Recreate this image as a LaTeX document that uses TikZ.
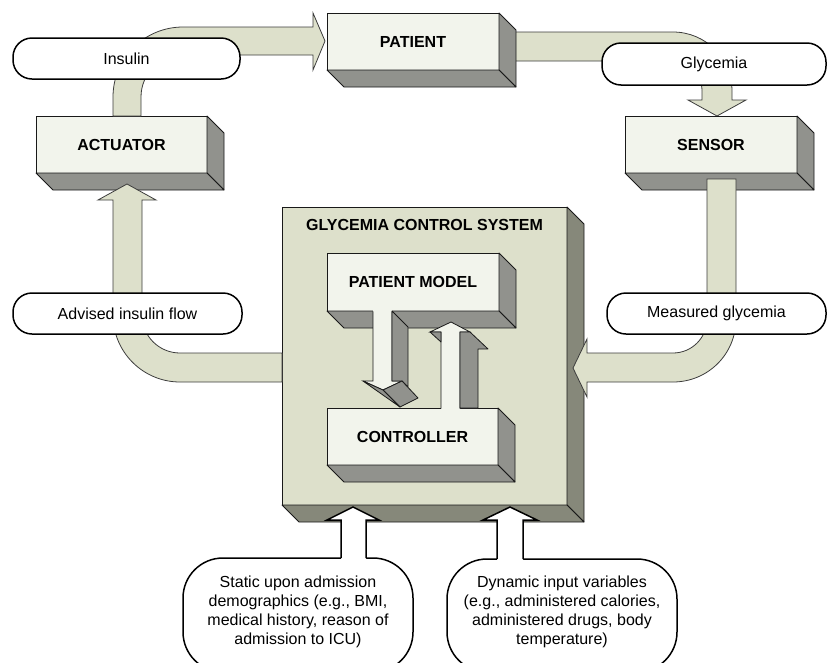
\documentclass[tikz,border=0pt]{standalone}
\usepackage{fontspec}
\setmainfont{Liberation Sans}
\usetikzlibrary{calc}

\definecolor{facelight}{RGB}{242,244,236}
\definecolor{faceshade}{RGB}{145,146,141}
\definecolor{sysface}{RGB}{221,224,203}
\definecolor{sysshade}{RGB}{134,136,122}
\definecolor{flowfill}{RGB}{221,224,203}
\definecolor{edge}{RGB}{25,25,25}

\tikzset{
  txt/.style={font=\fontsize{16}{19}\selectfont, text=black},
  front/.style={draw=edge, line width=0.8pt, fill=facelight, inner sep=0pt, outer sep=0pt,
                font=\fontsize{16}{19}\selectfont\bfseries, text=black},
  shade/.style={draw=edge, line width=0.8pt, fill=faceshade, line join=round},
  flow/.style={draw=edge!85, line width=0.8pt, fill=flowfill, line join=miter},
  pill/.style={txt, draw=black, line width=1.5pt, fill=white, rounded corners=19pt,
               inner sep=0pt, outer sep=0pt},
  bubble/.style={draw=black, line width=1.5pt, fill=white},
}

% side and bottom faces of an extruded box, depth #2
\newcommand{\extrude}[3]{%
  \filldraw[shade, fill=#3] (#1.north east) -- ++(#2,#2) -- ($(#1.south east)+(#2,#2)$) -- (#1.south east) -- cycle;
  \filldraw[shade, fill=#3] (#1.south west) -- (#1.south east) -- ($(#1.south east)+(#2,#2)$) -- ($(#1.south west)+(#2,#2)$) -- cycle;
}

\begin{document}
\begin{tikzpicture}[x=1pt, y=-1pt]
\clip (0,0) rectangle (827,662);

% glycemia flow leaves the patient (behind the patient box)
\filldraw[flow] (505,32) -- (673,32) .. controls (705.6,32) and (732,58.4) .. (732,91)
  -- (732,100) -- (746,100) -- (717,116) -- (688,100) -- (702,100) -- (702,91)
  .. controls (702,74.4) and (689.6,61) .. (673,61) -- (505,61) -- cycle;

% outer loop blocks
\node[front, minimum width=172pt, minimum height=57pt] (patient) at (413,41.5) {PATIENT};
\extrude{patient}{17}{faceshade}
\node[front, minimum width=171pt, minimum height=57pt] (actuator) at (121.5,144.5) {ACTUATOR};
\extrude{actuator}{17}{faceshade}
\node[front, minimum width=172pt, minimum height=57pt] (sensor) at (711,144.5) {SENSOR};
\extrude{sensor}{17}{faceshade}

% control system block
\node[front, fill=sysface, minimum width=285pt, minimum height=298pt] (gcs) at (424.5,356) {};
\extrude{gcs}{17}{sysshade}
\node[txt, font=\fontsize{16}{19}\selectfont\bfseries] (gcstitle) at (424.5,225) {GLYCEMIA CONTROL SYSTEM};

% inner blocks
\node[front, minimum width=172pt, minimum height=58pt] (pmodel) at (413,282) {PATIENT MODEL};
\extrude{pmodel}{17}{faceshade}
\node[front, minimum width=171pt, minimum height=57pt] (controller) at (412.5,436.5) {CONTROLLER};
\extrude{controller}{17}{faceshade}

% insulin flow: actuator to patient
\filldraw[flow] (113,116) -- (113,97) .. controls (113,58.3) and (144.3,27) .. (183,27)
  -- (313,27) -- (313,13) -- (325,41) -- (313,70) -- (313,55) -- (183,55)
  .. controls (159.8,55) and (141,73.8) .. (141,97) -- (141,116) -- cycle;

% measured glycemia: sensor to control system
\filldraw[flow] (707,179) -- (707,319) .. controls (707,337.8) and (691.8,353) .. (673,353)
  -- (587,353) -- (587,339) -- (573,368) -- (587,397) -- (587,382) -- (673,382)
  .. controls (707.8,382) and (736,354.2) .. (736,319) -- (736,179) -- cycle;

% advised insulin flow: control system to actuator
\filldraw[flow] (282,353) -- (180,353) .. controls (159,353) and (142,336) .. (142,315)
  -- (142,200) -- (156,200) -- (127,184) -- (98,200) -- (113,200) -- (113,315)
  .. controls (113,352) and (143,382) .. (180,382) -- (282,382) -- cycle;

% model -> controller arrow
\fill[facelight] (373,309.5) -- (392,309.5) -- (392,381) -- (402,381) -- (383,390) -- (363,381) -- (373,381) -- cycle;
\draw[edge, line width=0.8pt] (373,311.4) -- (373,381) -- (363,381) -- (383,390) -- (402,381) -- (392,381) -- (392,311.4);
\filldraw[shade] (392,311) -- (408,327) -- (408,387) -- (402,381) -- (392,381) -- cycle;
\filldraw[shade] (383,390) -- (402,381) -- (418,398) -- (400,407) -- cycle;
\filldraw[shade] (363,381) -- (383,390) -- (400,407) -- cycle;

% controller -> model arrow
\fill[facelight] (441,409.6) -- (441,332) -- (430,332) -- (451,322) -- (470,332) -- (460,332) -- (460,409.6) -- cycle;
\draw[edge, line width=0.8pt] (441,408.6) -- (441,332) -- (430,332) -- (451,322) -- (470,332) -- (460,332) -- (460,408.6);
\filldraw[shade] (430,332) -- (441,332) -- (441,342) -- cycle;
\filldraw[shade] (460,332) -- (470,332) -- (488,349) -- (478,349) -- (478,408) -- (460,408) -- cycle;

% flow labels
\node[pill, minimum width=227pt, minimum height=41pt] (insulin) at (126.5,58.5) {Insulin};
\node[pill, minimum width=224pt, minimum height=42pt] (glycemia) at (714,64) {Glycemia};
\node[pill, minimum width=229pt, minimum height=41pt] (advised) at (127.5,313.5) {Advised insulin flow};
\node[pill, minimum width=219pt, minimum height=41pt] (measured) at (716.5,313.5) {Measured glycemia};

% static inputs callout
\filldraw[bubble, rounded corners=40pt] (183,558) rectangle (413,672);
\fill[white] (341,559.6) -- (341,520) -- (327,520) -- (353,507) -- (379,520) -- (366,520) -- (366,559.6) -- cycle;
\draw[black, line width=1.5pt, line join=miter] (341,558) -- (341,520) -- (327,520) -- (353,507) -- (379,520) -- (366,520) -- (366,558);
\node[txt, align=center] (static) at (298,611.5) {Static upon admission\\demographics (e.g., BMI,\\medical history, reason of\\admission to ICU)};

% dynamic inputs callout
\filldraw[bubble, rounded corners=40pt] (447,559) rectangle (677,672);
\fill[white] (497,560.6) -- (497,520) -- (483,520) -- (510,507) -- (537,520) -- (523,520) -- (523,560.6) -- cycle;
\draw[black, line width=1.5pt, line join=miter] (497,559) -- (497,520) -- (483,520) -- (510,507) -- (537,520) -- (523,520) -- (523,559);
\node[txt, align=center] (dynamic) at (562,611.5) {Dynamic input variables\\(e.g., administered calories,\\administered drugs, body\\temperature)};

\end{tikzpicture}
\end{document}
